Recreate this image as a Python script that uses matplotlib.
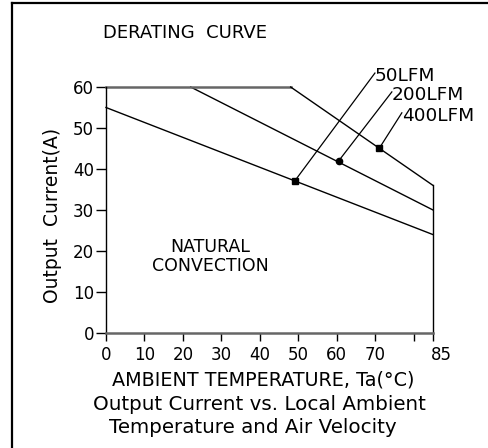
import matplotlib
matplotlib.use("Agg")
import matplotlib.pyplot as plt
from matplotlib.lines import Line2D
from matplotlib.transforms import ScaledTranslation

# Derating data: ambient temperature (°C) vs. maximum output current (A)
nat_temps = [0, 85]
nat_current = [55, 24]
lfm200_temps = [0, 22, 85]
lfm200_current = [60, 60, 30]
lfm400_temps = [0, 48, 85]
lfm400_current = [60, 60, 36]

# Callout points on each curve
callout_temps = [49, 60.5, 71]
callout_current = [37, 42, 45]
callout_labels = ["50LFM", "200LFM", "400LFM"]
callout_markers = ["s", "o", "s"]
# Leader line end points (data coordinates)
leader_temps = [69.9, 74.3, 76.9]
leader_current = [63.4, 58.8, 53.7]

x_ticks = [0, 10, 20, 30, 40, 50, 60, 70, 80, 85]
x_tick_labels = ["0", "10", "20", "30", "40", "50", "60", "70", "", "85"]
y_ticks = [0, 10, 20, 30, 40, 50, 60]

W, H = 489, 448
fig = plt.figure(figsize=(W / 100, H / 100), dpi=100)
plt.rcParams["font.family"] = ["DejaVu Sans"]

def px(x, y):
    return x / W, 1 - y / H

ax = fig.add_axes([106 / W, (H - 333) / H, 327 / W, 246 / H])
ax.set_xlim(0, 85)
ax.set_ylim(0, 60)
for side in ("top", "right"):
    ax.spines[side].set_visible(False)
ax.spines["left"].set_linewidth(1.0)
ax.spines["left"].set_color("black")
ax.spines["bottom"].set_linewidth(1.8)
ax.spines["bottom"].set_color("#666666")

ax.set_xticks(x_ticks)
ax.set_xticklabels(x_tick_labels)
ax.set_yticks(y_ticks)
ax.tick_params(axis="x", direction="out", length=5.5, width=1, pad=4, labelsize=12)
ax.tick_params(axis="y", direction="out", length=7, width=1, pad=1.5, labelsize=12)
# nudge the end label to the right
lbl85 = ax.get_xticklabels()[-1]
lbl85.set_transform(lbl85.get_transform() + ScaledTranslation(0.08, 0, fig.dpi_scale_trans))

lw = 1.0
# natural convection
ax.plot(nat_temps, nat_current, color="black", lw=lw, clip_on=False)
# 200 LFM: plateau then derating
ax.plot(lfm200_temps[1:], lfm200_current[1:], color="black", lw=lw, clip_on=False)
# 400 LFM: plateau (grey) then derating
ax.plot(lfm400_temps[:2], lfm400_current[:2], color="#666666", lw=1.8, clip_on=False)
ax.plot(lfm400_temps[1:], lfm400_current[1:], color="black", lw=lw, clip_on=False)
# right boundary at maximum temperature
ax.plot([lfm400_temps[-1], lfm400_temps[-1]], [0, lfm400_current[-1]],
        color="black", lw=lw, clip_on=False)

for t, c, lt, lc, lab, m in zip(callout_temps, callout_current, leader_temps,
                                 leader_current, callout_labels, callout_markers):
    ax.plot([t, lt], [c, lc], color="black", lw=0.9, clip_on=False)
    ax.plot([t], [c], marker=m, color="black", markersize=4.5, clip_on=False)
    ax.text(lt, lc, lab, ha="left", va="center", fontsize=13.3,
            transform=ax.transData + ScaledTranslation(0, -0.03, fig.dpi_scale_trans),
            clip_on=False)

ax.text(0.32, 0.31, "NATURAL\nCONVECTION", transform=ax.transAxes,
        ha="center", va="center", multialignment="center", fontsize=12.5,
        linespacing=1.05)

fig.text(*px(103, 33), "DERATING  CURVE", ha="left", va="center", fontsize=13)
fig.text(*px(53, 215), "Output  Current(A)", ha="center", va="center",
         rotation=90, fontsize=13.5)
fig.text(*px(263, 380), "AMBIENT TEMPERATURE, Ta(°C)", ha="center", va="center",
         fontsize=13.8)
fig.text(*px(93, 404), "Output Current vs. Local Ambient", ha="left", va="center",
         fontsize=14.3)
fig.text(*px(109, 427), "Temperature and Air Velocity", ha="left", va="center",
         fontsize=14.3)

# frame (top and left edges)
fig.add_artist(Line2D([12 / W, 12 / W], [0, 1 - 3.5 / H], color="black", lw=1.6))
fig.add_artist(Line2D([12 / W, 1], [1 - 3.5 / H, 1 - 3.5 / H], color="black", lw=1.6))

fig.savefig("out.png", dpi=100)
